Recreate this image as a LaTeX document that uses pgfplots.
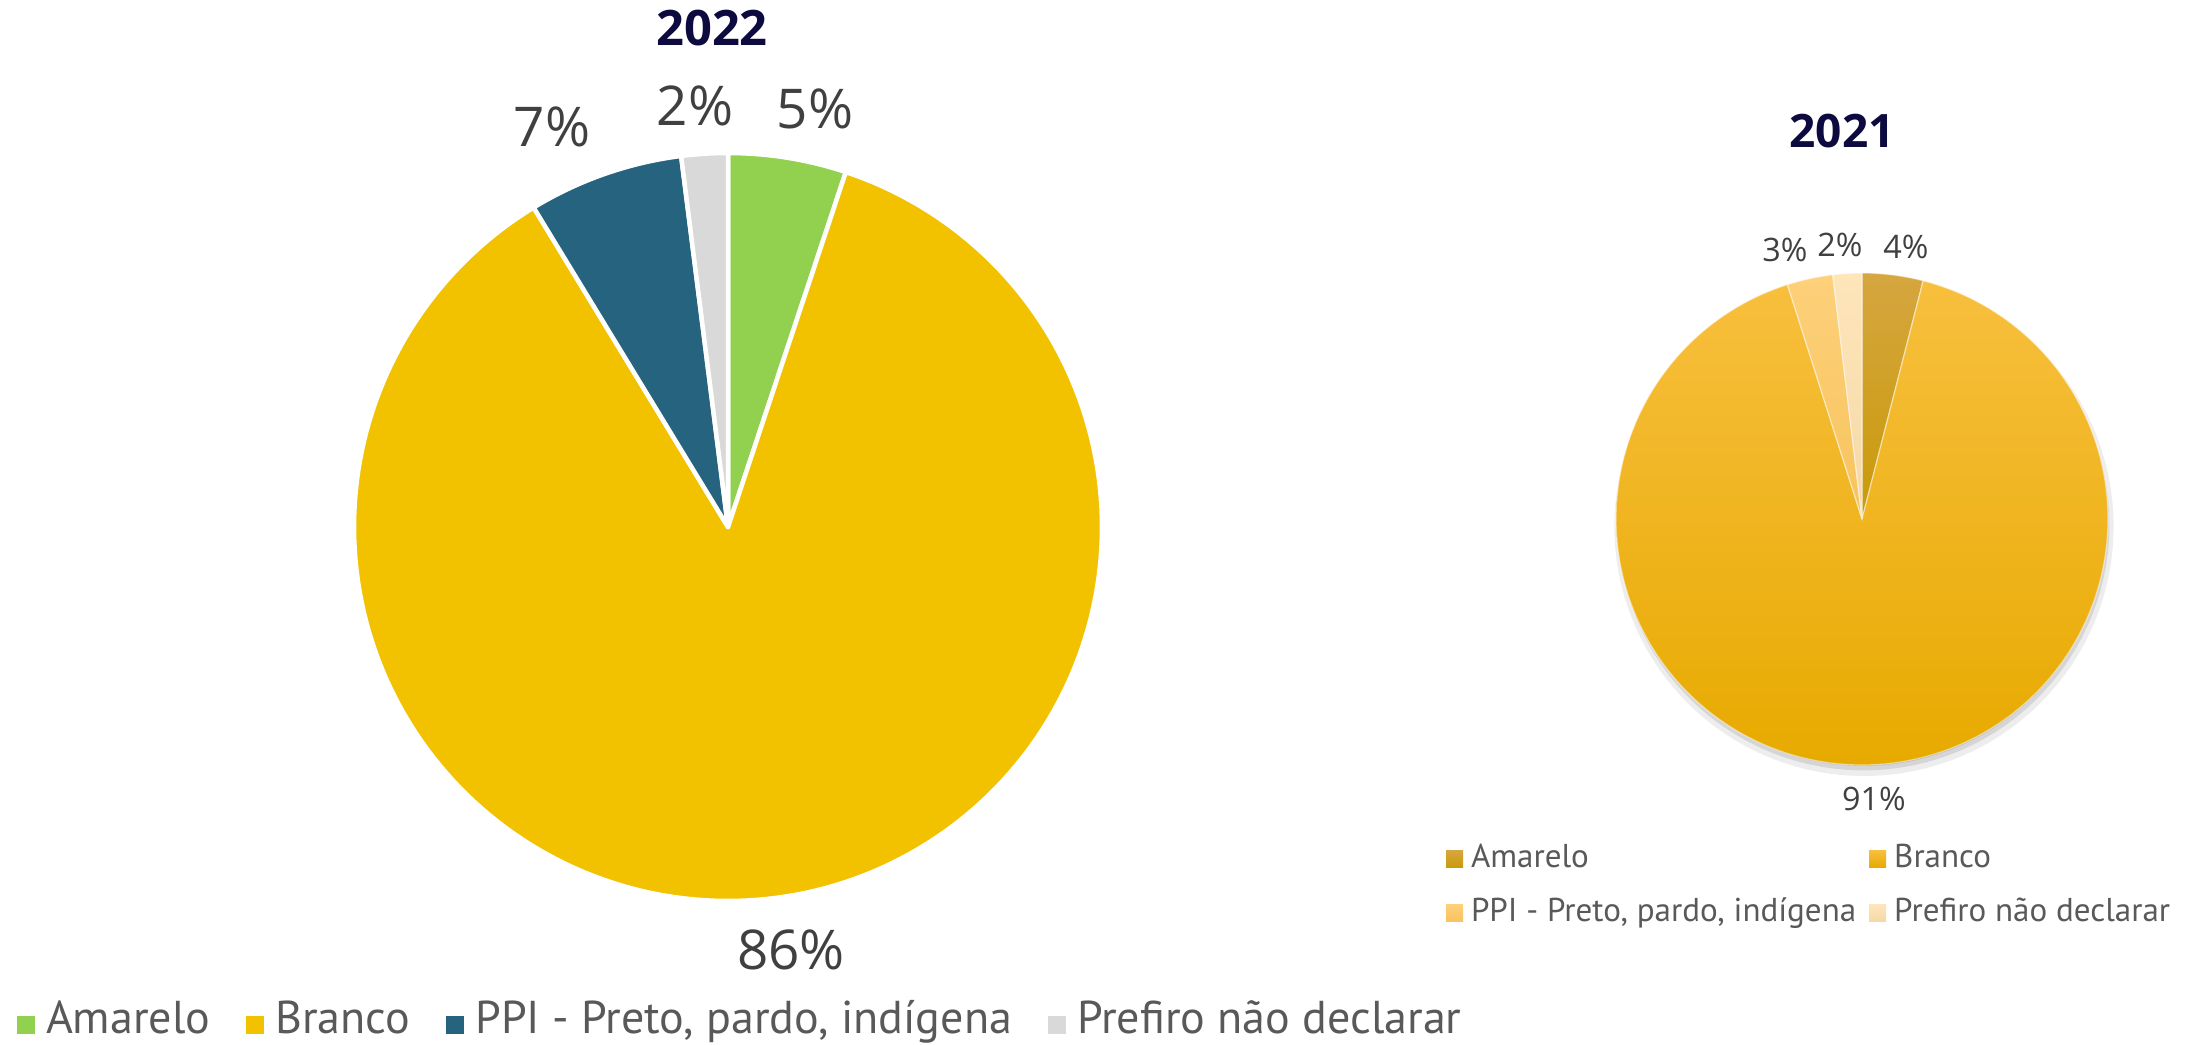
\documentclass[border=0pt]{standalone}
\usepackage{pgfplots}
\pgfplotsset{compat=1.18}
\usepackage{fontspec}
\setmainfont{Open Sans}
\newfontfamily\legfont{PT Sans}

\definecolor{cAm}{HTML}{92D050}
\definecolor{cBr}{HTML}{F2C200}
\definecolor{cPPI}{HTML}{26637E}
\definecolor{cPr}{HTML}{D9D9D9}
\definecolor{txt}{HTML}{404040}
\definecolor{legtxt}{HTML}{595959}
\definecolor{ttl}{HTML}{0C0A3E}
\definecolor{dAmT}{HTML}{D6A640}
\definecolor{dAmB}{HTML}{C99A08}
\definecolor{dBrT}{HTML}{F8BF3E}
\definecolor{dBrM}{HTML}{F5B700}
\definecolor{dBrB}{HTML}{E7AA00}
\definecolor{dPPIT}{HTML}{FDD07A}
\definecolor{dPPIB}{HTML}{F7C35C}
\definecolor{dPrT}{HTML}{FEE5BA}
\definecolor{dPrB}{HTML}{F5D8A6}

% 2022 shares (%)
\def\Aa{5.1}\def\Ab{86.2}\def\Ac{6.7}\def\Ad{2.0}
% 2021 shares (%)
\def\Ba{4.0}\def\Bb{91.1}\def\Bc{3.0}\def\Bd{1.9}

\pgfmathsetmacro\Aza{90}
\pgfmathsetmacro\Azb{\Aza-3.6*\Aa}
\pgfmathsetmacro\Azc{\Azb-3.6*\Ab}
\pgfmathsetmacro\Azd{\Azc-3.6*\Ac}
\pgfmathsetmacro\Aze{\Azd-3.6*\Ad}
\pgfmathsetmacro\Bza{90}
\pgfmathsetmacro\Bzb{\Bza-3.6*\Ba}
\pgfmathsetmacro\Bzc{\Bzb-3.6*\Bb}
\pgfmathsetmacro\Bzd{\Bzc-3.6*\Bc}
\pgfmathsetmacro\Bze{\Bzd-3.6*\Bd}

\begin{document}
\begin{tikzpicture}
\path (0,0) rectangle (220.8mm,104.4mm);

% ---------------- 2022 ----------------
\begin{axis}[at={(72.8mm,51.7mm)}, anchor=center, hide axis, scale only axis,
  width=74.8mm, height=74.8mm, xmin=-1, xmax=1, ymin=-1, ymax=1, clip=false,
  legend columns=4, legend cell align=left,
  legend image code/.code={\fill[#1, draw=none] (0mm,-0.9mm) rectangle (1.8mm,0.9mm);},
  legend style={at={(-0.4505,-0.166)}, anchor=west, draw=none, fill=none,
    inner sep=0pt, outer sep=0pt,
    font=\legfont\fontsize{13.1}{15}\selectfont, text=legtxt,
    nodes={inner sep=0pt, text depth=0.25em, text height=0.75em},
    /tikz/every odd column/.append style={column sep=1.1mm},
    /tikz/every even column/.append style={column sep=3.6mm}},
]
\addplot[fill=cAm, draw=white, line width=0.45mm, line join=round, domain=\Azb:\Aza, samples=40, forget plot] ({cos(x)},{sin(x)}) -- (0,0) -- cycle;
\addplot[fill=cBr, draw=white, line width=0.45mm, line join=round, domain=\Azc:\Azb, samples=200, forget plot] ({cos(x)},{sin(x)}) -- (0,0) -- cycle;
\addplot[fill=cPPI, draw=white, line width=0.45mm, line join=round, domain=\Azd:\Azc, samples=40, forget plot] ({cos(x)},{sin(x)}) -- (0,0) -- cycle;
\addplot[fill=cPr, draw=white, line width=0.45mm, line join=round, domain=\Aze:\Azd, samples=20, forget plot] ({cos(x)},{sin(x)}) -- (0,0) -- cycle;
\addlegendimage{fill=cAm}\addlegendentry{Amarelo}
\addlegendimage{fill=cBr}\addlegendentry{Branco}
\addlegendimage{fill=cPPI}\addlegendentry{PPI - Preto, pardo, indígena}
\addlegendimage{fill=cPr}\addlegendentry{Prefiro não declarar}
\end{axis}

% ---------------- 2021 ----------------
\begin{axis}[at={(186.2mm,52.5mm)}, anchor=center, hide axis, scale only axis,
  width=49.2mm, height=49.2mm, xmin=-1, xmax=1, ymin=-1, ymax=1, clip=false,
  legend columns=2, legend cell align=left,
  legend image code/.code={\fill[#1, draw=none] (0mm,-0.85mm) rectangle (1.7mm,0.85mm);},
  legend style={at={(-0.3455,-0.246)}, anchor=west, draw=none, fill=none,
    inner sep=0pt, outer sep=0pt,
    font=\legfont\fontsize{9.4}{11}\selectfont, text=legtxt,
    nodes={inner sep=0pt, text depth=0.25em, text height=0.75em},
    /tikz/row sep=1.9mm,
    /tikz/every odd column/.append style={column sep=0.8mm},
    /tikz/every even column/.append style={column sep=1.3mm}},
]
% soft shadow
\addplot[fill=black, fill opacity=0.07, draw=none, domain=0:360, samples=120, forget plot] ({0.008+1.015*cos(x)},{-0.03+1.015*sin(x)}) -- cycle;
\addplot[fill=black, fill opacity=0.10, draw=none, domain=0:360, samples=120, forget plot] ({0.006+1.0*cos(x)},{-0.022+1.0*sin(x)}) -- cycle;
\addplot[fill=black, fill opacity=0.14, draw=none, domain=0:360, samples=120, forget plot] ({0.004+0.99*cos(x)},{-0.014+0.99*sin(x)}) -- cycle;
\addplot[top color=dAmT, bottom color=dAmB, draw=white, draw opacity=0.5, line width=0.12mm, domain=\Bzb:\Bza, samples=30, forget plot] ({cos(x)},{sin(x)}) -- (0,0) -- cycle;
\addplot[top color=dBrT, middle color=dBrM, bottom color=dBrB, draw=white, draw opacity=0.5, line width=0.12mm, domain=\Bzc:\Bzb, samples=200, forget plot] ({cos(x)},{sin(x)}) -- (0,0) -- cycle;
\addplot[top color=dPPIT, bottom color=dPPIB, draw=white, draw opacity=0.5, line width=0.12mm, domain=\Bzd:\Bzc, samples=20, forget plot] ({cos(x)},{sin(x)}) -- (0,0) -- cycle;
\addplot[top color=dPrT, bottom color=dPrB, draw=white, draw opacity=0.5, line width=0.12mm, domain=\Bze:\Bzd, samples=20, forget plot] ({cos(x)},{sin(x)}) -- (0,0) -- cycle;
\addlegendimage{top color=dAmT, bottom color=dAmB}\addlegendentry{Amarelo}
\addlegendimage{top color=dBrT, bottom color=dBrB}\addlegendentry{Branco}
\addlegendimage{top color=dPPIT, bottom color=dPPIB}\addlegendentry{PPI - Preto, pardo, indígena}
\addlegendimage{top color=dPrT, bottom color=dPrB}\addlegendentry{Prefiro não declarar}
\end{axis}

% titles
\node[font=\bfseries\fontsize{13.9}{16}\selectfont, text=ttl, inner sep=0pt] at (71.2mm,101.6mm) {2022};
\node[font=\bfseries\fontsize{13.1}{15}\selectfont, text=ttl, inner sep=0pt] at (184.2mm,91.3mm) {2021};
% data labels 2022
\begin{scope}[every node/.style={font=\fontsize{15.6}{18}\selectfont, text=txt, inner sep=0pt}]
\node at (81.5mm,93.5mm) {5\%};
\node at (69.5mm,93.8mm) {2\%};
\node at (55.2mm,91.7mm) {7\%};
\node at (79.1mm,9.4mm) {86\%};
\end{scope}
% data labels 2021
\begin{scope}[every node/.style={font=\fontsize{9.2}{11}\selectfont, text=txt, inner sep=0pt}]
\node at (178.5mm,79.4mm) {3\%};
\node at (184.0mm,79.9mm) {2\%};
\node at (190.6mm,79.7mm) {4\%};
\node at (187.4mm,24.5mm) {91\%};
\end{scope}
\end{tikzpicture}
\end{document}
